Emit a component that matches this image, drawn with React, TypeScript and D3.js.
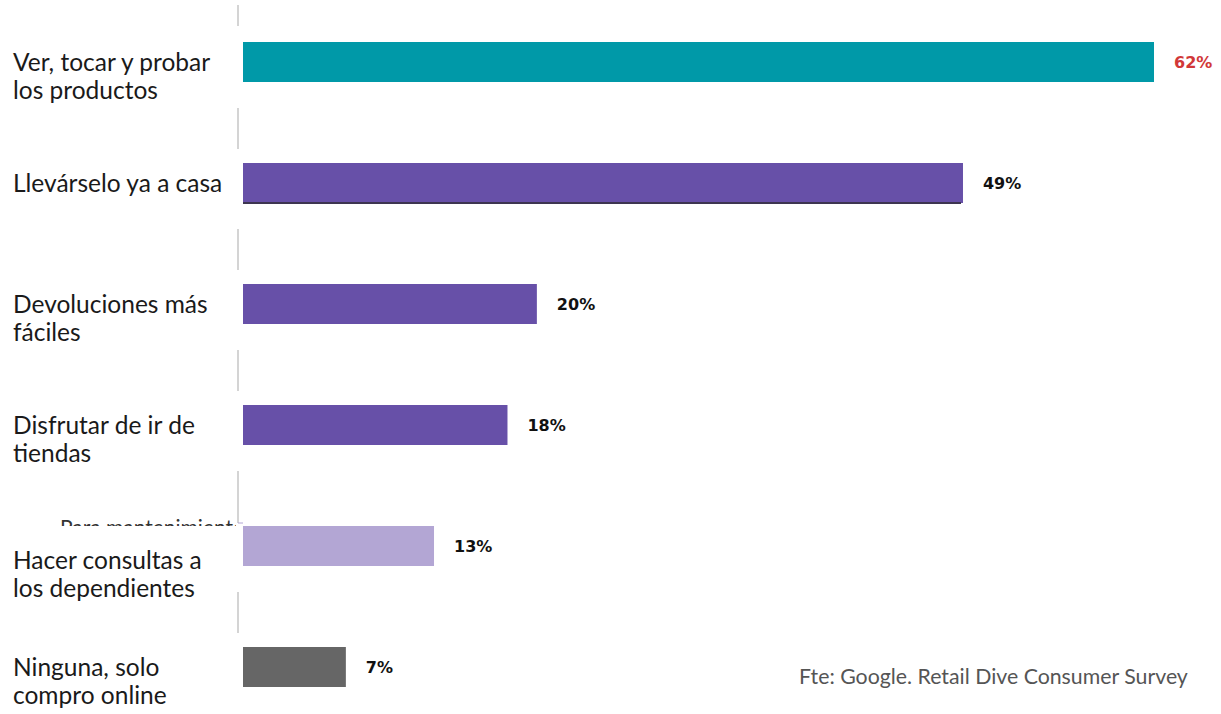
import React from "react";
import * as d3 from "d3";

const categories = [
  ["Ver, tocar y probar", "los productos"],
  ["Llevárselo ya a casa"],
  ["Devoluciones más", "fáciles"],
  ["Disfrutar de ir de", "tiendas"],
  ["Hacer consultas a", "los dependientes"],
  ["Ninguna, solo", "compro online"],
];
const values = [62, 49, 20, 18, 13, 7];
const barColors = ["#0099A8", "#6750A8", "#6750A8", "#6750A8", "#B3A6D4", "#666666"];
const valueColors = ["#D13838", "#111", "#111", "#111", "#111", "#111"];
// a leftover label cut off above one row
const hiddenNotes = ["", "", "", "", "Para mantenimiento", ""];
const source = "Fte: Google. Retail Dive Consumer Survey";

const W = 1221;
const H = 714;

export default function App() {
  const keys = categories.map((c) => c.join(" "));
  const y = d3
    .scaleBand<string>()
    .domain(keys)
    .range([42, 687])
    .paddingInner(81 / 121)
    .paddingOuter(0);
  const x = d3.scaleLinear().domain([0, 62]).range([243, 1154]);
  const bw = y.bandwidth();

  const segs: [number, number][] = [];
  keys.forEach((k, i) => {
    const top = y(k)!;
    const start = i === 0 ? 5 : y(keys[i - 1])! + bw + 26;
    segs.push([start, top - (hiddenNotes[i] ? 3 : i === 0 ? 16 : 14)]);
  });

  return (
    <svg
      width={W}
      height={H}
      style={{ position: "absolute", left: 0, top: 0, background: "#fff" }}
    >
      <rect x={0} y={0} width={W} height={H} fill="#fff" />
      {segs.map(([a, b], i) => (
        <line key={i} x1={238} x2={238} y1={a} y2={b} stroke="#d4d4d4" strokeWidth={2} />
      ))}
      {keys.map((k, i) => {
        const yy = y(k)!;
        const cy = yy + bw / 2;
        const note = hiddenNotes[i];
        const shift = note ? 14 : 0;
        return (
          <g key={k}>
            {note && (
              <g>
                <defs>
                  <clipPath id={`noteClip${i}`}>
                    <rect x={0} y={yy - 20} width={236} height={20} />
                  </clipPath>
                </defs>
                <text
                  x={60}
                  y={yy + 9}
                  clipPath={`url(#noteClip${i})`}
                  fontFamily="Lato, sans-serif"
                  fontSize={21}
                  fill="#333"
                >
                  {note}
                </text>
                <line x1={238} x2={243} y1={yy - 3} y2={yy - 3} stroke="#b3a6d4" strokeWidth={1} />
              </g>
            )}
            <rect x={x(0)} y={yy} width={x(values[i]) - x(0)} height={bw} fill={barColors[i]} />
            {i === 1 && (
              <rect x={x(0)} y={yy + bw - 1} width={x(values[i]) - x(0) - 2} height={2} fill="#3d3550" />
            )}
            <text
              x={x(values[i]) + 20}
              y={cy + 1}
              dominantBaseline="middle"
              fontFamily="'DejaVu Sans', sans-serif"
              fontWeight="bold"
              fontSize={16}
              fill={valueColors[i]}
            >
              {values[i]}%
            </text>
            <text x={13} y={cy + 9 + shift} fontFamily="Lato, sans-serif" fontSize={24.5} fill="#1a1a1a">
              {categories[i].map((line, j) => (
                <tspan key={j} x={13} dy={j === 0 ? 0 : 28}>
                  {line}
                </tspan>
              ))}
            </text>
          </g>
        );
      })}
      <text x={799} y={684} fontFamily="Lato, sans-serif" fontSize={21.3} fill="#555">
        {source}
      </text>
    </svg>
  );
}
